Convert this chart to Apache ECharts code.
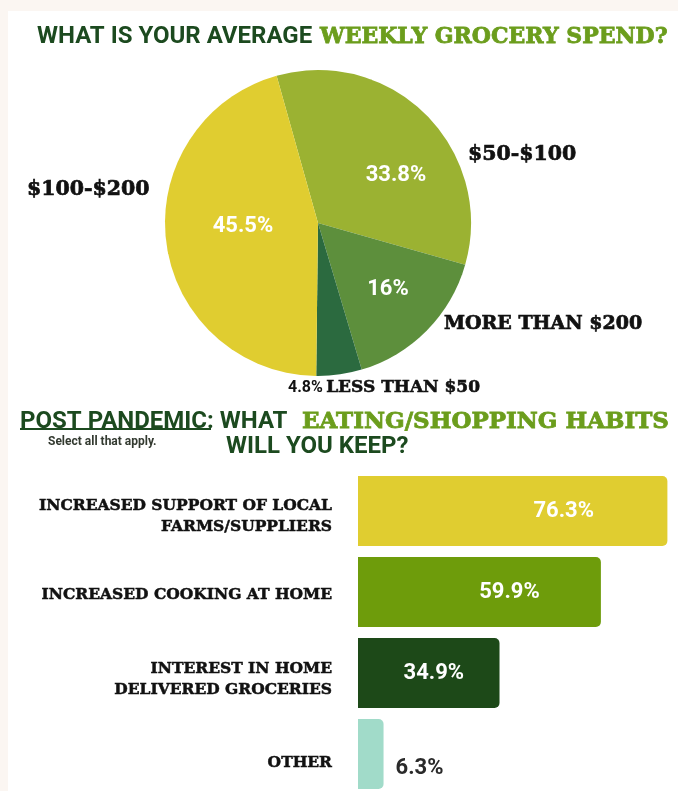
<!DOCTYPE html>
<html>
<head>
<meta charset="utf-8">
<script src="https://cdn.jsdelivr.net/npm/echarts@6/dist/echarts.min.js"></script>
<style>
  html, body { margin: 0; padding: 0; background: #fbf6f2; }
  #main { width: 678px; height: 791px; }
</style>
</head>
<body>
<div id="main"></div>
<script>
// 饼图数据 - 每周杂货支出
var pieNames = ['$50-$100', 'More than $200', 'Less than $50', '$100-$200'];
var pieValues = [33.8, 16, 4.8, 45.5];
// 条形图数据 - 疫情后保留的习惯
var barCategories = ['INCREASED SUPPORT OF LOCAL\nFARMS/SUPPLIERS', 'INCREASED COOKING AT HOME', 'INTEREST IN HOME\nDELIVERED GROCERIES', 'OTHER'];
var barValues = [76.3, 59.9, 34.9, 6.3];

var pieColors = ['#9bb232', '#5d8f3c', '#2b6a3f', '#e0cd30'];
var barColors = ['#e0cd30', '#6e9c0b', '#1d4918', '#a1dbc9'];

var darkGreen = '#1c4a1f';
var lightGreen = '#6b9d1c';
var slab = '"DejaVu Serif", serif';

// 标签位置(样式)
var innerPos = [[396, 175], [388, 289], null, [243, 226]];
var outerPos = [[468, 155], [444, 324], [288, 388], [27, 190]];
var outerStyle = ['a', 'm', 's', 'a'];
var valueOffset = [[51, 0], [30, 0], [5, 0], [0, 14]];
var nameOffset = [[0, 5], [0, 3], [0, 6], [0, 9]];

var myChart = echarts.init(document.getElementById('main'));

function headText(text, left, top, size, color, family, border) {
    return {
        text: text, left: left, top: top, padding: 0,
        textStyle: {
            color: color, fontSize: size, lineHeight: size, fontWeight: 'bold', fontFamily: family,
            textBorderColor: color, textBorderWidth: border || 0
        }
    };
}

var option = {
    backgroundColor: '#fbf6f2',
    animation: false,
    title: [
        headText('WHAT IS YOUR AVERAGE', 37, 25, 24, darkGreen, 'Roboto'),
        headText('WEEKLY GROCERY SPEND?', 320, 26, 22, lightGreen, slab, 0.8),
        headText('POST PANDEMIC: WHAT', 20, 410, 24, darkGreen, 'Roboto'),
        headText('EATING/SHOPPING HABITS', 302, 411, 23, lightGreen, slab, 0.8),
        headText('WILL YOU KEEP?', 226, 435, 24, darkGreen, 'Roboto'),
        headText('Select all that apply.', 48, 436, 12, '#333a30', 'Roboto')
    ],
    graphic: [
        { type: 'rect', z: -10, shape: { x: 8, y: 11, width: 670, height: 780 }, style: { fill: '#ffffff' } },
        { type: 'line', shape: { x1: 20, y1: 429, x2: 211, y2: 429 }, style: { stroke: darkGreen, lineWidth: 2 } }
    ],
    grid: { left: 358, top: 470.5, width: 405.5, height: 324, outerBoundsMode: 'none', containLabel: false },
    xAxis: { type: 'value', min: 0, max: 100, show: false },
    yAxis: {
        type: 'category',
        inverse: true,
        data: barCategories,
        axisLine: { show: false },
        axisTick: { show: false },
        axisLabel: { show: false }
    },
    series: [
        {
            type: 'pie',
            center: [318, 223],
            radius: 153,
            startAngle: 105.7,
            avoidLabelOverlap: false,
            emphasis: { disabled: true },
            data: pieNames.map(function (n, i) {
                return {
                    name: n, value: pieValues[i],
                    itemStyle: { color: pieColors[i] },
                    label: { show: innerPos[i] !== null }
                };
            }),
            label: {
                position: 'inside', formatter: '{c}%', color: '#fff',
                fontFamily: 'Roboto', fontWeight: 'bold', fontSize: 22
            },
            labelLayout: function (p) {
                var pos = innerPos[p.dataIndex];
                return pos ? { x: pos[0], y: pos[1], align: 'center', verticalAlign: 'middle' } : {};
            }
        },
        {
            // 外部标签
            type: 'pie',
            center: [318, 223],
            radius: 153,
            startAngle: 105.7,
            silent: true,
            avoidLabelOverlap: false,
            itemStyle: { color: 'rgba(0,0,0,0)' },
            data: pieNames.map(function (n, i) { return { name: n, value: pieValues[i] }; }),
            labelLine: { show: false },
            label: {
                position: 'outside',
                formatter: function (p) {
                    var t = '{' + outerStyle[p.dataIndex] + '|' + p.name.toUpperCase() + '}';
                    return p.dataIndex === 2 ? '{p|' + p.value + '%} ' + t : t;
                },
                rich: {
                    a: { fontFamily: slab, fontWeight: 'bold', fontSize: 20.5, color: '#111', textBorderColor: '#111', textBorderWidth: 0.7 },
                    m: { fontFamily: slab, fontWeight: 'bold', fontSize: 19, color: '#111', textBorderColor: '#111', textBorderWidth: 0.7 },
                    s: { fontFamily: slab, fontWeight: 'bold', fontSize: 17, color: '#111', textBorderColor: '#111', textBorderWidth: 0.6 },
                    p: { fontFamily: 'Roboto', fontWeight: 'bold', fontSize: 16, color: '#111' }
                }
            },
            labelLayout: function (p) {
                var pos = outerPos[p.dataIndex];
                return { x: pos[0], y: pos[1], align: 'left', verticalAlign: 'middle' };
            }
        },
        {
            // 类别名称标签
            type: 'bar',
            barWidth: 70,
            silent: true,
            itemStyle: { color: 'rgba(0,0,0,0)' },
            data: barValues.map(function (v, i) {
                return { value: v, label: { offset: nameOffset[i] } };
            }),
            label: {
                show: true, position: 'left', distance: 26,
                formatter: function (p) { return barCategories[p.dataIndex]; },
                color: '#111', fontFamily: slab, fontWeight: 'bold', fontSize: 15.5, lineHeight: 21,
                textBorderColor: '#111', textBorderWidth: 0.5
            }
        },
        {
            type: 'bar',
            barWidth: 70,
            barGap: '-100%',
            data: barValues.map(function (v, i) {
                return {
                    value: v,
                    itemStyle: { color: barColors[i], borderRadius: [0, 5, 5, 0] },
                    label: i === 3
                        ? { position: 'right', distance: 12, color: '#2a2a2a', offset: valueOffset[i] }
                        : { position: 'inside', offset: valueOffset[i] }
                };
            }),
            label: {
                show: true, formatter: '{c}%', color: '#fff',
                fontFamily: 'Roboto', fontWeight: 'bold', fontSize: 22
            }
        }
    ]
};
myChart.setOption(option);
</script>
</body>
</html>
